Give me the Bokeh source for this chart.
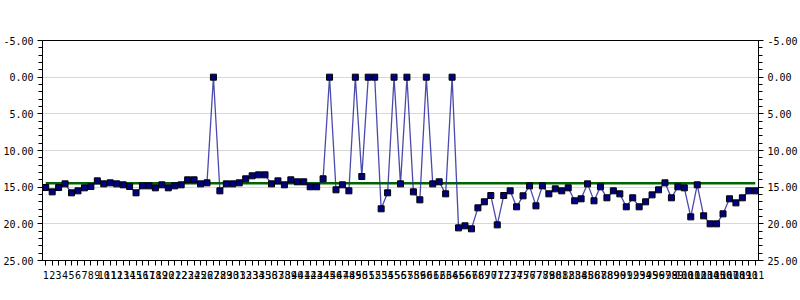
from bokeh.plotting import figure
from bokeh.models import (FactorRange, Range1d, LinearAxis, FixedTicker,
                          NumeralTickFormatter)
from bokeh.embed import file_html
from bokeh.resources import INLINE

categories = [str(i) for i in range(1, 112)]
values = [
    15.05, 15.64, 15.05, 14.55, 15.77, 15.50, 15.09, 14.91, 14.14, 14.55,
    14.41, 14.55, 14.68, 14.91, 15.77, 14.82, 14.82, 15.09, 14.68, 15.09,
    14.82, 14.68, 14.00, 14.00, 14.55, 14.41, 0.00, 15.50, 14.55, 14.55,
    14.41, 13.86, 13.45, 13.32, 13.32, 14.55, 14.14, 14.68, 14.00, 14.27,
    14.27, 14.95, 14.95, 13.86, 0.00, 15.36, 14.68, 15.50, 0.00, 13.55,
    0.00, 0.00, 17.95, 15.77, 0.00, 14.55, 0.00, 15.64, 16.73, 0.00,
    14.55, 14.27, 15.91, 0.00, 20.55, 20.27, 20.68, 17.82, 17.00, 16.14,
    20.14, 16.14, 15.50, 17.68, 16.18, 14.82, 17.55, 14.82, 15.91, 15.23,
    15.50, 15.09, 16.86, 16.59, 14.55, 16.86, 14.95, 16.45, 15.50, 15.91,
    17.68, 16.45, 17.68, 17.00, 16.05, 15.36, 14.41, 16.45, 14.95, 15.09,
    19.05, 14.68, 18.91, 20.00, 20.00, 18.64, 16.59, 17.14, 16.45, 15.50,
    15.50,
]
target = 14.45
y_major_ticks = [-5, 0, 5, 10, 15, 20, 25]
y_minor_ticks = [v for v in range(-5, 26) if v % 5 != 0]

FONT = "DejaVu Sans Mono"

p = figure(width=800, height=300, output_backend="svg", toolbar_location=None,
           x_range=FactorRange(*categories, range_padding=0),
           y_range=Range1d(25, -5),
           min_border_left=40, min_border_right=40,
           min_border_top=40, min_border_bottom=40,
           background_fill_color="white", border_fill_color="white",
           outline_line_color="black", outline_line_width=1)

# grid
p.xgrid.visible = False
p.ygrid.ticker = FixedTicker(ticks=y_major_ticks)
p.ygrid.grid_line_color = "#d8d8d8"
p.ygrid.grid_line_width = 1

# target line
p.line(categories, [target] * len(categories), line_color="#006400", line_width=2.5)

# data line + markers
p.line(categories, values, line_color="#2a2aa0", line_width=1.3, line_alpha=0.85)
p.scatter(categories, values, marker="square", size=6, fill_color="#000080",
          line_color="black", line_width=1)

def style_axis(ax):
    ax.axis_line_color = "black"
    ax.major_tick_line_color = "black"
    ax.minor_tick_line_color = "black"
    ax.major_tick_in = 0
    ax.major_tick_out = 5
    ax.minor_tick_in = 0
    ax.minor_tick_out = 4
    ax.major_label_text_font = FONT
    ax.major_label_text_font_size = "10px"
    ax.major_label_text_color = "black"

# bottom axis
xa = p.xaxis[0]
style_axis(xa)
xa.major_label_standoff = 5
xa.major_label_orientation = "horizontal"

# left axis
ya = p.yaxis[0]
style_axis(ya)
ya.ticker = FixedTicker(ticks=y_major_ticks, minor_ticks=y_minor_ticks)
ya.formatter = NumeralTickFormatter(format="0.00")
ya.major_label_standoff = 4

# right axis
ra = LinearAxis()
style_axis(ra)
ra.ticker = FixedTicker(ticks=y_major_ticks, minor_ticks=y_minor_ticks)
ra.formatter = NumeralTickFormatter(format="0.00")
ra.major_label_standoff = 4
p.add_layout(ra, "right")

open("out.html", "w").write(file_html(p, INLINE))
